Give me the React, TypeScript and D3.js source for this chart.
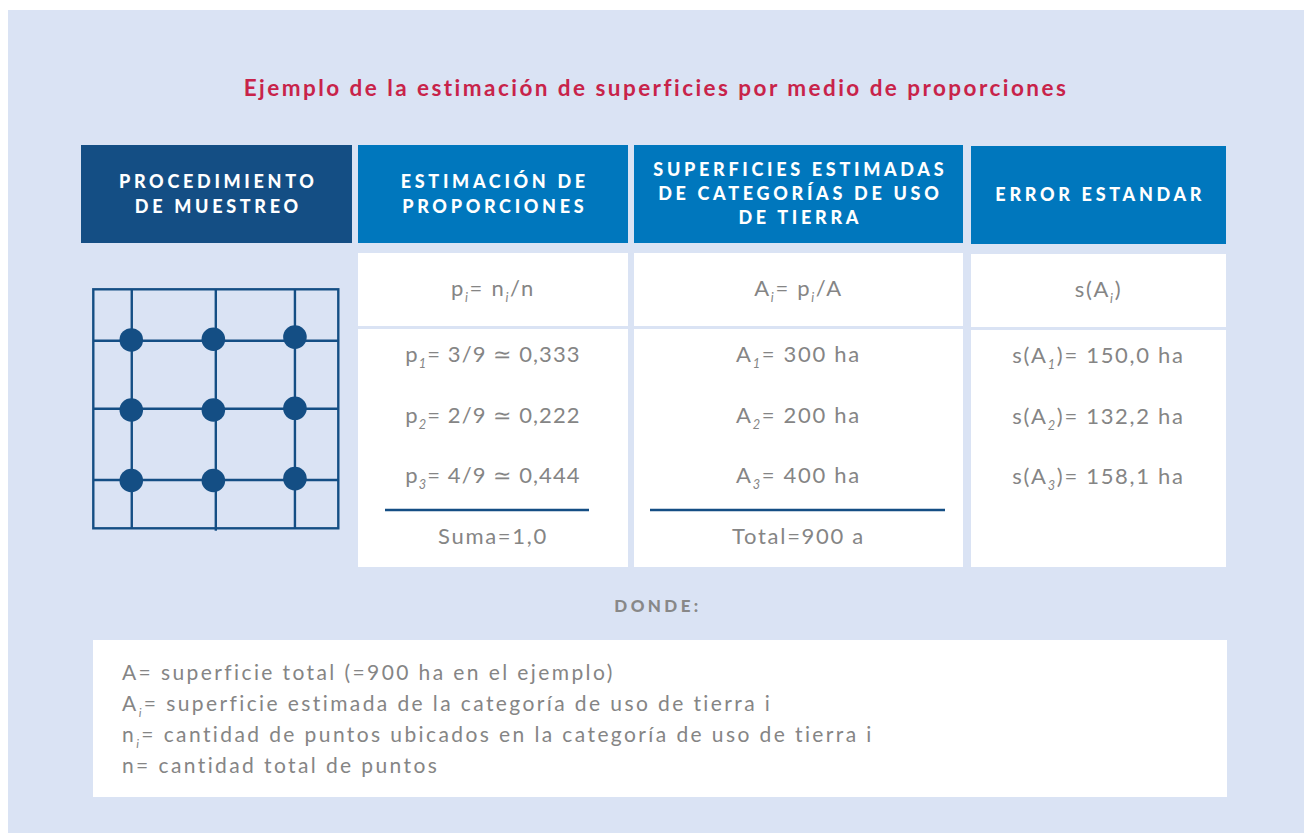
import React from "react";
import * as d3 from "d3";

// ---------- data ----------
const title = "Ejemplo de la estimación de superficies por medio de proporciones";
const headers: string[][] = [
  ["PROCEDIMIENTO", "DE MUESTREO"],
  ["ESTIMACIÓN DE", "PROPORCIONES"],
  ["SUPERFICIES ESTIMADAS", "DE CATEGORÍAS DE USO", "DE TIERRA"],
  ["ERROR ESTANDAR"],
];
type Seg = { t: string; sub?: boolean };
const formulas: Seg[][] = [
  [{ t: "p" }, { t: "i", sub: true }, { t: "= n" }, { t: "i", sub: true }, { t: "/n" }],
  [{ t: "A" }, { t: "i", sub: true }, { t: "= p" }, { t: "i", sub: true }, { t: "/A" }],
  [{ t: "s(A" }, { t: "i", sub: true }, { t: ")" }],
];
const categories = ["1", "2", "3"];
const pointCounts = [3, 2, 4];
const totalPoints = 9;
const proportions = [0.333, 0.222, 0.444];
const areasHa = [300, 200, 400];
const stdErrorsHa = [150.0, 132.2, 158.1];
const sumLabel = "Suma=1,0";
const totalLabel = "Total=900 a";
const dondeLabel = "DONDE:";
const legendLines: Seg[][] = [
  [{ t: "A= superficie total (=900 ha en el ejemplo)" }],
  [{ t: "A" }, { t: "i", sub: true }, { t: "= superficie estimada de la categoría de uso de tierra i" }],
  [{ t: "n" }, { t: "i", sub: true }, { t: "= cantidad de puntos ubicados en la categoría de uso de tierra i" }],
  [{ t: "n= cantidad total de puntos" }],
];
// sampling grid (relative units 0..1 inside the square)
const gridX = [0.157, 0.5, 0.823];
const gridY = [0.215, 0.5, 0.798];
const samplePoints: [number, number][] = [
  [0.155, 0.212], [0.49, 0.209], [0.823, 0.2],
  [0.155, 0.505], [0.49, 0.505], [0.823, 0.498],
  [0.155, 0.8], [0.49, 0.8], [0.823, 0.792],
];

// ---------- style ----------
const BG = "#dae3f4";
const NAVY = "#144e84";
const BLUE = "#0077bd";
const CRIMSON = "#c8234a";
const GRAY = "#858585";
const FONT = "Lato, 'Open Sans', sans-serif";

const fmt = (v: number, d: number) => v.toFixed(d).replace(".", ",");

function Rich({ segs, x, y, size, anchor = "middle", fill = GRAY, subSize, subDy, ls = 0 }: any) {
  let shift = 0;
  const ss = subSize ?? size * 0.58;
  const sd = subDy ?? size * 0.28;
  return (
    <text x={x} y={y} textAnchor={anchor} fontSize={size} fill={fill} fontFamily={FONT} letterSpacing={ls}>
      {segs.map((s: Seg, i: number) => {
        const target = s.sub ? sd : 0;
        const dy = target - shift;
        shift = target;
        return (
          <tspan key={i} dy={dy} fontSize={s.sub ? ss : size} fontStyle={s.sub ? "italic" : "normal"}>
            {s.t}
          </tspan>
        );
      })}
    </text>
  );
}

export default function App() {
  const W = 1304, H = 833;
  const cols = [
    [81, 352],
    [358, 628],
    [634, 963],
    [971, 1226],
  ];
  const headTop = 145, headBot = 243;
  const row1 = [253, 326];
  const row2 = [329, 567];

  const gx = d3.scaleLinear().domain([0, 1]).range([93.3, 338.3]);
  const gy = d3.scaleLinear().domain([0, 1]).range([289.3, 528.3]);

  const valueRows = d3.scalePoint<string>().domain(categories).range([362, 483]);
  const legendRows = d3
    .scalePoint<number>()
    .domain(legendLines.map((_, i) => i))
    .range([680, 773]);

  const propRows: Seg[][] = categories.map((c, i) => [
    { t: "p" },
    { t: c, sub: true },
    { t: `= ${pointCounts[i]}/${totalPoints} ≃ ${fmt(proportions[i], 3)}` },
  ]);
  const areaRows: Seg[][] = categories.map((c, i) => [
    { t: "A" },
    { t: c, sub: true },
    { t: `= ${areasHa[i]} ha` },
  ]);
  const errRows: Seg[][] = categories.map((c, i) => [
    { t: "s(A" },
    { t: c, sub: true },
    { t: `)= ${fmt(stdErrorsHa[i], 1)} ha` },
  ]);

  const cx = (c: number[]) => (c[0] + c[1]) / 2;
  const bodySize = 22;
  const bodyLs = 1.7;

  return (
    <svg
      width={W}
      height={H}
      style={{ position: "absolute", left: 0, top: 0, background: "#fff" }}
    >
      <rect x={8} y={10} width={W - 8} height={H - 10} fill={BG} />
      <text
        x={656}
        y={96}
        textAnchor="middle"
        fontFamily={FONT}
        fontWeight={700}
        fontSize={22.5}
        letterSpacing={2.45}
        fill={CRIMSON}
      >
        {title}
      </text>

      {/* headers */}
      {headers.map((lines, ci) => {
        const c = cols[ci];
        const top = ci === 3 ? headTop + 1 : headTop;
        const bot = ci === 3 ? headBot + 1 : headBot;
        const mid = (top + bot) / 2;
        const sp = lines.length > 2 ? 24 : 25;
        return (
          <g key={ci}>
            <rect x={c[0]} y={top} width={c[1] - c[0]} height={bot - top} fill={ci === 0 ? NAVY : BLUE} />
            {lines.map((l, li) => (
              <text
                key={li}
                x={cx(c) + 1.8}
                y={mid + 6.4 + (li - (lines.length - 1) / 2) * sp}
                textAnchor="middle"
                fontFamily={FONT}
                fontWeight={900}
                fontSize={18}
                letterSpacing={3.7}
                fill="#fff"
              >
                {l}
              </text>
            ))}
          </g>
        );
      })}

      {/* body cells */}
      {cols.slice(1).map((c, i) => {
        const off = i === 2 ? 1 : 0;
        return (
          <g key={i}>
            <rect x={c[0]} y={row1[0] + off} width={c[1] - c[0]} height={row1[1] - row1[0]} fill="#fff" />
            <rect x={c[0]} y={row2[0] + off} width={c[1] - c[0]} height={row2[1] - row2[0] - off} fill="#fff" />
            <Rich segs={formulas[i]} x={cx(c)} y={296 + off} size={bodySize} ls={bodyLs} />
          </g>
        );
      })}

      {categories.map((c, i) => (
        <g key={c}>
          <Rich segs={propRows[i]} x={cx(cols[1])} y={valueRows(c)} size={bodySize} ls={1.1} />
          <Rich segs={areaRows[i]} x={cx(cols[2])} y={valueRows(c)} size={bodySize} ls={bodyLs} />
          <Rich segs={errRows[i]} x={cx(cols[3])} y={(valueRows(c) as number) + 1} size={bodySize} ls={bodyLs} />
        </g>
      ))}

      <line x1={385} x2={589} y1={510} y2={510} stroke={NAVY} strokeWidth={2.5} />
      <line x1={650} x2={945} y1={510} y2={510} stroke={NAVY} strokeWidth={2.5} />
      <Rich segs={[{ t: sumLabel }]} x={cx(cols[1])} y={544} size={bodySize} ls={bodyLs} />
      <Rich segs={[{ t: totalLabel }]} x={cx(cols[2])} y={544} size={bodySize} ls={bodyLs} />

      {/* sampling grid */}
      <g stroke={NAVY} strokeWidth={2.4} fill="none">
        <rect x={gx(0)} y={gy(0)} width={gx(1) - gx(0)} height={gy(1) - gy(0)} />
        {gridX.map((v, i) => (
          <line key={"v" + i} x1={gx(v)} x2={gx(v)} y1={gy(0)} y2={gy(1) + (i === 1 ? 2.4 : 0)} />
        ))}
        {gridY.map((v, i) => (
          <line key={"h" + i} x1={gx(0)} x2={gx(1)} y1={gy(v)} y2={gy(v)} />
        ))}
      </g>
      {samplePoints.map((p, i) => (
        <circle key={i} cx={gx(p[0])} cy={gy(p[1])} r={11.8} fill={NAVY} />
      ))}

      {/* donde */}
      <text
        x={658}
        y={612}
        textAnchor="middle"
        fontFamily={FONT}
        fontWeight={900}
        fontSize={17}
        letterSpacing={3.4}
        fill="#888888"
      >
        {dondeLabel}
      </text>
      <rect x={93} y={640} width={1227 - 93} height={797 - 640} fill="#fff" />
      {legendLines.map((l, i) => (
        <Rich
          key={i}
          segs={l}
          x={122}
          y={legendRows(i)}
          size={21}
          anchor="start"
          subDy={6}
          subSize={12}
          ls={2.4}
        />
      ))}
    </svg>
  );
}
